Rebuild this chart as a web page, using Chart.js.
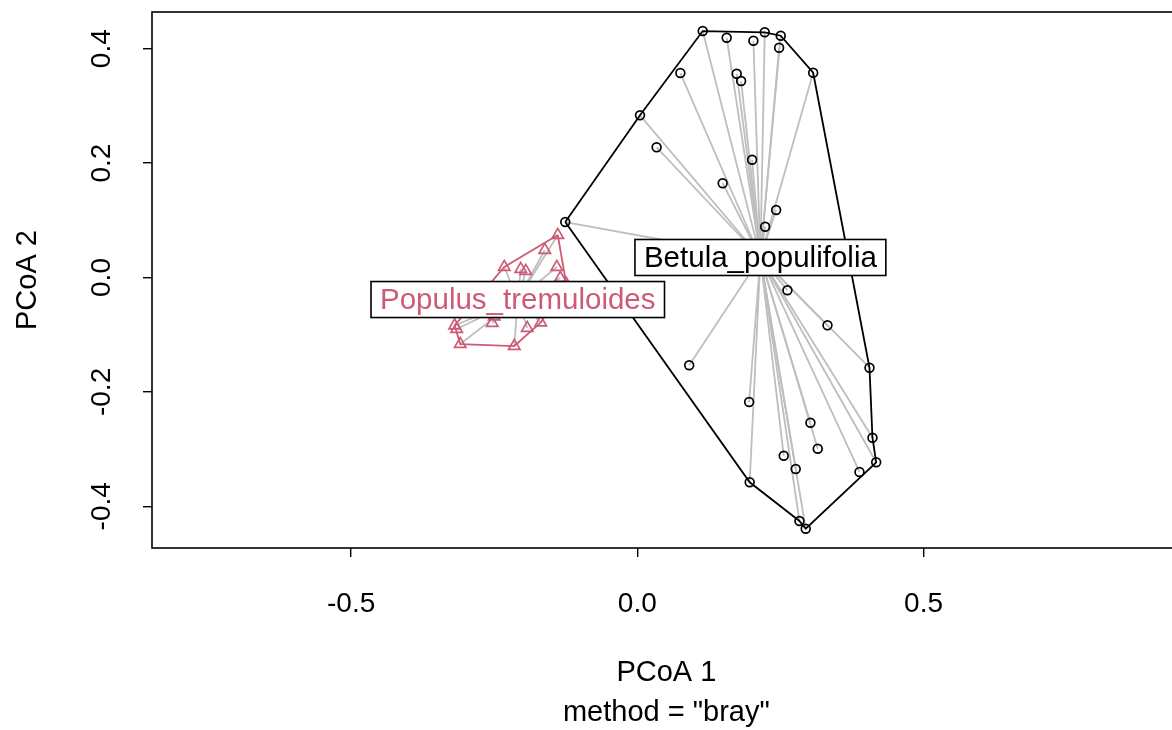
<!DOCTYPE html>
<html><head><meta charset="utf-8">
<script src="https://cdn.jsdelivr.net/npm/chart.js@4.4.0/dist/chart.umd.min.js"></script>
<style>html,body{margin:0;padding:0;background:#fff;overflow:hidden;width:1172px;height:730px}#wrap{width:1172px;height:730px;position:relative;overflow:hidden}canvas{display:block}</style>
</head><body><div id="wrap"><canvas id="c" width="1189" height="730"></canvas></div>
<script>
// ---- data ----
const groups = ['Betula_populifolia', 'Populus_tremuloides'];
const betulaX = [-0.1259, 0.0047, 0.1142, 0.1561, 0.2028, 0.2226, 0.2505, 0.2477, 0.3072, 0.0752, 0.1736, 0.1813, 0.0337, 0.2005, 0.1491, 0.2425, 0.2233, 0.2622, 0.3322, 0.4056, 0.0906, 0.1953, 0.3024, 0.4108, 0.3152, 0.2558, 0.4173, 0.2767, 0.3881, 0.1963, 0.2832, 0.2942];
const betulaY = [0.0970, 0.2836, 0.4309, 0.4192, 0.4140, 0.4287, 0.4227, 0.4017, 0.3580, 0.3575, 0.3563, 0.3435, 0.2276, 0.2059, 0.1649, 0.1180, 0.0888, -0.0224, -0.0836, -0.1577, -0.1535, -0.2177, -0.2538, -0.2801, -0.2993, -0.3115, -0.3231, -0.3348, -0.3400, -0.3580, -0.4257, -0.4392];
const populusX = [-0.1390, -0.1617, -0.2325, -0.2037, -0.1949, -0.1407, -0.1346, -0.1241, -0.3191, -0.3156, -0.2535, -0.2500, -0.1923, -0.1687, -0.3094, -0.2150, -0.2745, -0.1608];
const populusY = [0.0743, 0.0481, 0.0184, 0.0149, 0.0114, 0.0184, -0.0009, -0.0114, -0.0839, -0.0900, -0.0795, -0.0682, -0.0883, -0.0787, -0.1163, -0.1198, -0.0393, -0.0393];
const centroidX = [0.2150, -0.2089];
const centroidY = [0.0350, -0.0385];
const betulaHull = [0, 1, 2, 5, 6, 8, 19, 23, 26, 31, 30, 29, 0];
const populusHull = [0, 7, 13, 15, 14, 8, 2, 0];
const xTicks = [-0.5, 0.0, 0.5];
const yTicks = [-0.4, -0.2, 0.0, 0.2, 0.4];
const xTitle = ['PCoA 1', 'method = "bray"'];
const yTitle = 'PCoA 2';
const X_MIN = -0.8479, X_MAX = 0.9493, Y_MIN = -0.4729, Y_MAX = 0.4642;

// ---- styles ----
const FONT = '"Liberation Sans", Arial, sans-serif';
const RED = '#CD5B75';
const GREY = '#BEBEBE';
const groupColors = ['#000000', RED];

const pts = (xs, ys) => xs.map((v, i) => ({x: v, y: ys[i]}));
const betulaPts = pts(betulaX, betulaY);
const populusPts = pts(populusX, populusY);

const datasets = [];
datasets.push({label: 'Betula points', data: betulaPts, pointStyle: 'circle', pointRadius: 4.4, pointBorderWidth: 1.7,
  pointBorderColor: '#000', pointBackgroundColor: 'rgba(0,0,0,0)', showLine: false, order: 0});
datasets.push({label: 'Populus points', data: populusPts, pointStyle: 'triangle', pointRadius: 6.6, pointBorderWidth: 1.7,
  pointBorderColor: RED, pointBackgroundColor: 'rgba(0,0,0,0)', showLine: false, order: 1});
datasets.push({label: 'Betula hull', data: betulaHull.map(i => betulaPts[i]), showLine: true, pointRadius: 0,
  borderColor: '#000', borderWidth: 1.8, order: 2});
datasets.push({label: 'Populus hull', data: populusHull.map(i => populusPts[i]), showLine: true, pointRadius: 0,
  borderColor: RED, borderWidth: 1.8, order: 3});
[[betulaPts, 0], [populusPts, 1]].forEach(([arr, g]) => {
  arr.forEach(p => datasets.push({label: 'seg', data: [{x: centroidX[g], y: centroidY[g]}, p], showLine: true,
    pointRadius: 0, borderColor: GREY, borderWidth: 1.8, order: 4}));
});

const framePlugin = {
  id: 'frame',
  beforeDatasetsDraw(chart) {
    const {ctx, chartArea: a} = chart;
    ctx.save(); ctx.strokeStyle = '#000'; ctx.lineWidth = 1.6;
    ctx.strokeRect(a.left, a.top, a.right - a.left, a.bottom - a.top);
    ctx.restore();
  }
};
const labelPlugin = {
  id: 'grpLabels',
  afterDatasetsDraw(chart) {
    const {ctx, scales: {x, y}} = chart;
    ctx.save();
    ctx.font = '29.5px ' + FONT;
    groups.forEach((g, i) => {
      const px = x.getPixelForValue(centroidX[i]), py = y.getPixelForValue(centroidY[i]);
      const w = ctx.measureText(g).width + 18, h = 36;
      ctx.fillStyle = '#fff'; ctx.fillRect(px - w / 2, py - h / 2, w, h);
      ctx.strokeStyle = '#000'; ctx.lineWidth = 1.6; ctx.strokeRect(px - w / 2, py - h / 2, w, h);
      ctx.fillStyle = groupColors[i]; ctx.textAlign = 'center'; ctx.textBaseline = 'middle';
      ctx.fillText(g, px, py + 1);
    });
    ctx.restore();
  }
};

const noPad = s => { s.paddingTop = 0; s.paddingBottom = 0; s.paddingLeft = 0; s.paddingRight = 0; };

new Chart(document.getElementById('c'), {
  type: 'scatter',
  data: {datasets},
  plugins: [framePlugin, labelPlugin],
  options: {
    responsive: false, animation: false, devicePixelRatio: 1,
    layout: {padding: {top: 12, right: 0, bottom: 0, left: 0}},
    plugins: {legend: {display: false}, tooltip: {enabled: false}},
    elements: {line: {tension: 0}},
    scales: {
      x: {
        type: 'linear', min: X_MIN, max: X_MAX,
        afterFit: s => { s.height = 182; noPad(s); },
        afterBuildTicks: s => { s.ticks = xTicks.map(v => ({value: v})); },
        grid: {drawOnChartArea: false, drawTicks: true, tickLength: 9, color: '#000', lineWidth: 1.4},
        border: {display: false},
        ticks: {color: '#000', font: {family: FONT, size: 28}, padding: 30, maxRotation: 0, autoSkip: false,
          callback: v => v.toFixed(1)},
        title: {display: true, text: xTitle, color: '#000', font: {family: FONT, size: 29, lineHeight: 1.38},
          padding: {top: 0, bottom: -3}}
      },
      y: {
        type: 'linear', min: Y_MIN, max: Y_MAX,
        afterFit: s => { s.width = 152; noPad(s); },
        afterBuildTicks: s => { s.ticks = yTicks.map(v => ({value: v})); },
        grid: {drawOnChartArea: false, drawTicks: true, tickLength: 9, color: '#000', lineWidth: 1.4},
        border: {display: false},
        ticks: {color: '#000', font: {family: FONT, size: 28}, padding: 17, minRotation: 90, maxRotation: 90,
          crossAlign: 'center', autoSkip: false, callback: v => v.toFixed(1)},
        title: {display: true, text: yTitle, color: '#000', font: {family: FONT, size: 29, lineHeight: 1.2},
          padding: {top: 11, bottom: 0}}
      }
    }
  }
});
</script></body></html>
